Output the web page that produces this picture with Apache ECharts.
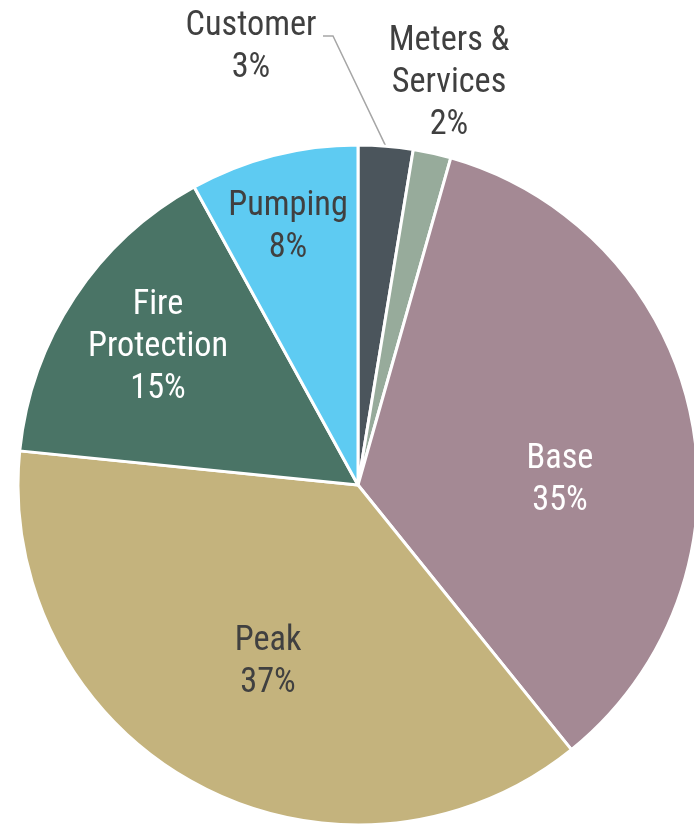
<!DOCTYPE html>
<html>
<head>
<meta charset="utf-8">
<script src="https://cdn.jsdelivr.net/npm/echarts@6/dist/echarts.min.js"></script>
<style>
html,body{margin:0;padding:0;background:#fff;}
#chart{width:694px;height:824px;}
</style>
</head>
<body>
<div id="chart"></div>
<script>
// Data
var categories = ['Customer', 'Meters &\nServices', 'Base', 'Peak', 'Fire\nProtection', 'Pumping'];
var values = [2.6, 1.8, 34.8, 37.4, 15.4, 8.0];

// Styles
var colors = ['#4b555c', '#97ab9b', '#a48994', '#c4b37d', '#4a7466', '#5ecbf2'];
var textColors = ['#404040', '#404040', '#ffffff', '#404040', '#ffffff', '#404040'];
// label centres (layout only)
var labelPos = [[251, 47], [449, 83], [560, 480], [268, 662], [158, 347], [288, 227]];

// pick a narrow font if one is installed, and size it so "Customer" is ~131px wide
var ctx = document.createElement('canvas').getContext('2d');
function w(font, txt) { ctx.font = '37px ' + font; return ctx.measureText(txt).width; }
var candidates = ['Liberation Sans Narrow', 'Arial Narrow', 'Roboto Condensed', 'DejaVu Sans Condensed', 'Liberation Sans'];
var chosen = 'Liberation Sans';
for (var k = 0; k < candidates.length; k++) {
  var t = 'Customer mmm iii';
  if (w('"' + candidates[k] + '", monospace', t) !== w('monospace', t)) { chosen = candidates[k]; break; }
}
var FONT = '"' + chosen + '", "Liberation Sans", Arial, sans-serif';
var fs = Math.min(37, 37 * 131 / w(FONT, 'Customer'));

var chart = echarts.init(document.getElementById('chart'), null, {renderer: 'canvas'});

var seriesData = categories.map(function (c, i) {
  return {
    name: c,
    value: values[i],
    itemStyle: {color: colors[i]},
    label: {color: textColors[i]},
    labelLine: {show: i === 0}
  };
});

chart.setOption({
  animation: false,
  series: [{
    type: 'pie',
    center: [358, 485],
    radius: [0, 340],
    startAngle: 90,
    clockwise: true,
    percentPrecision: 0,
    avoidLabelOverlap: false,
    itemStyle: {borderColor: '#ffffff', borderWidth: 3},
    label: {
      show: true,
      position: 'outside',
      formatter: '{b}\n{d}%',
      fontFamily: FONT,
      fontSize: fs,
      lineHeight: 42,
      align: 'center'
    },
    labelLine: {
      show: true,
      length: 20,
      length2: 10,
      lineStyle: {color: '#a6a6a6', width: 1.5}
    },
    labelLayout: function (params) {
      var p = labelPos[params.dataIndex];
      var res = {x: p[0], y: p[1], align: 'center', verticalAlign: 'middle'};
      if (params.dataIndex === 0 && params.labelLinePoints) {
        var p0 = params.labelLinePoints[0];
        res.labelLinePoints = [p0, [333, 36], [323, 36]];
      }
      return res;
    },
    data: seriesData
  }]
});
</script>
</body>
</html>
